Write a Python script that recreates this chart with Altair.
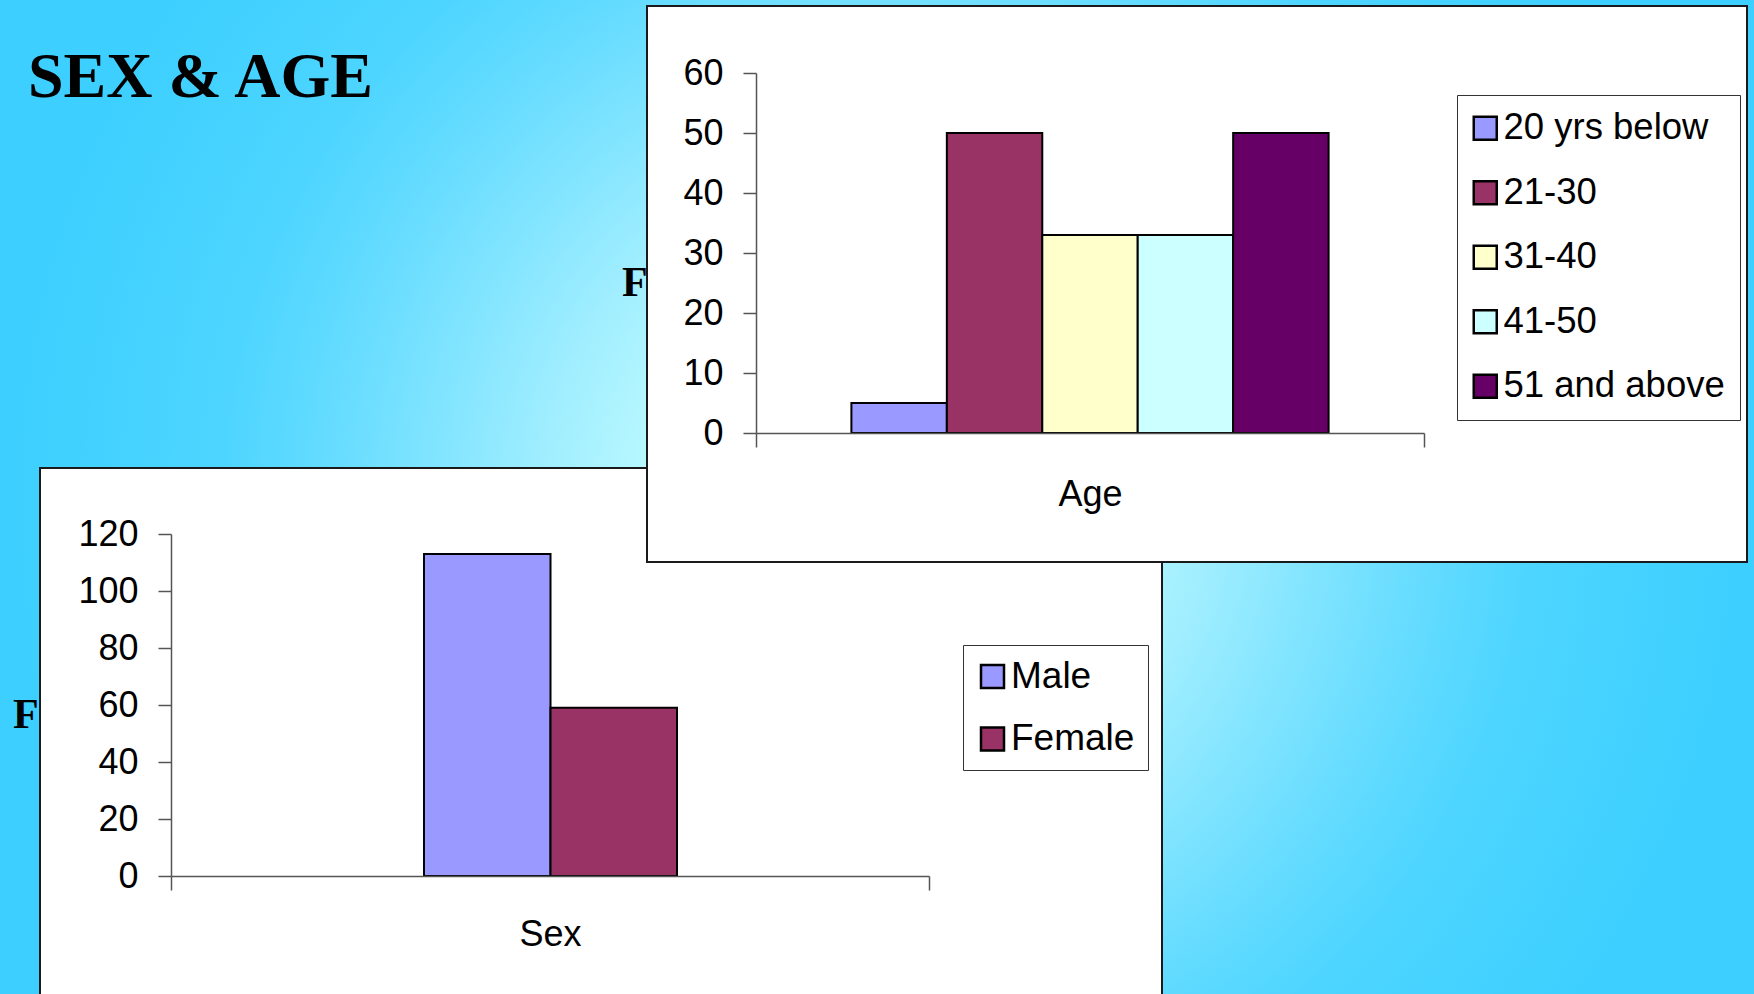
import altair as alt
import pandas as pd

W, H = 1754, 994
SANS = "Liberation Sans"
SERIF = "Liberation Serif"
AXC = "#555555"

# ---------------- data ----------------
title_text = ["SEX & AGE"]
side_text = ["F"]

age_category = ["Age"]
age_groups = ["20 yrs below", "21-30", "31-40", "41-50", "51 and above"]
age_values = [5, 50, 33, 33, 50]
age_colors = ["#9999ff", "#993366", "#ffffcc", "#ccffff", "#660066"]
age_ticks = [0, 10, 20, 30, 40, 50, 60]

sex_category = ["Sex"]
sex_groups = ["Male", "Female"]
sex_values = [113, 59]
sex_colors = ["#9999ff", "#993366"]
sex_ticks = [0, 20, 40, 60, 80, 100, 120]

one = pd.DataFrame({"p": [0]})


def rect(x0, y0, x1, y1, **kw):
    return alt.Chart(one).mark_rect(**kw).encode(
        x=alt.value(x0), x2=alt.value(x1), y=alt.value(y0), y2=alt.value(y1)
    )


background_gradient = {
    "gradient": "radial",
    "x1": 0.5, "y1": 0.5, "r1": 0,
    "x2": 0.5, "y2": 0.5, "r2": 0.5,
    "stops": [
        {"offset": 0.0, "color": "#d8ffff"},
        {"offset": 0.26, "color": "#b8f8ff"},
        {"offset": 0.38, "color": "#a0eeff"},
        {"offset": 0.51, "color": "#80e4ff"},
        {"offset": 0.64, "color": "#62dbff"},
        {"offset": 0.75, "color": "#4dd5ff"},
        {"offset": 1.0, "color": "#3ccfff"},
    ],
}


def text_layer(txt, x, y, size):
    return alt.Chart(pd.DataFrame({"t": txt})).mark_text(
        align="left", baseline="alphabetic", font=SERIF, fontWeight="bold",
        fontSize=size, color="black",
    ).encode(x=alt.value(x), y=alt.value(y), text="t:N")


def bars(cat, groups, values, colors, ticks, x0, x1, y0, y1, ymax,
         lx, ly, off_range, label_pad, legend_pad, row_pad, leg_font, sym_off):
    df = pd.DataFrame({"cat": cat * len(groups), "group": groups, "value": values})
    return alt.Chart(df).mark_bar(stroke="black", strokeWidth=2).encode(
        x=alt.X(
            "cat:N", title=None,
            scale=alt.Scale(range=[x0, x1], paddingInner=0, paddingOuter=0),
            axis=alt.Axis(
                orient="bottom", offset=y0 - H, tickBand="extent", tickSize=14,
                labelAngle=0, labelPadding=label_pad, labelFontSize=36,
                labelFont=SANS, labelColor="black", domainColor=AXC,
                tickColor=AXC, domainWidth=1.5, tickWidth=1.5, zindex=1,
            ),
        ),
        xOffset=alt.XOffset(
            "group:N",
            scale=alt.Scale(domain=groups, range=off_range,
                            paddingInner=0, paddingOuter=0),
        ),
        y=alt.Y(
            "value:Q", title=None,
            scale=alt.Scale(domain=[0, ymax], range=[y0, y1], nice=False, zero=True),
            axis=alt.Axis(
                orient="left", offset=-x0, values=ticks, tickSize=13,
                labelPadding=20, grid=False, labelFontSize=36, labelFont=SANS,
                labelColor="black", domainColor=AXC, tickColor=AXC,
                domainWidth=1.5, tickWidth=1.5, zindex=1,
            ),
        ),
        color=alt.Color(
            "group:N",
            scale=alt.Scale(domain=groups, range=colors),
            legend=alt.Legend(
                orient="none", legendX=lx, legendY=ly, title=None,
                direction="vertical", padding=legend_pad, strokeColor="#333333",
                fillColor="white", symbolType="square", symbolSize=529,
                symbolStrokeColor="black", symbolStrokeWidth=2.5,
                symbolOffset=sym_off,
                labelFontSize=leg_font, labelFont=SANS, labelColor="black",
                rowPadding=row_pad, labelOffset=0, labelLimit=500,
                zindex=1,
            ),
        ),
    )


layers = [
    rect(0, 0, W, H, fill=background_gradient, strokeWidth=0),
    text_layer(title_text, 28, 97, 64),
    text_layer(side_text, 13, 728, 42),
    text_layer(side_text, 622, 296, 42),
    # bottom-left panel
    rect(40, 468, 1162, 1010, fill="white", stroke="#1a1a1a", strokeWidth=2),
    bars(sex_category, sex_groups, sex_values, sex_colors, sex_ticks,
         171, 929, 876, 534, 120, 963, 645, [253, 506], 27, 13, 24.5, 37, -2),
    # top-right panel
    rect(647, 6, 1747, 562, fill="white", stroke="#1a1a1a", strokeWidth=2),
    bars(age_category, age_groups, age_values, age_colors, age_ticks,
         756, 1424, 433, 73, 60, 1457, 95, [95.4, 572.6], 30, 15, 27.5, 36.5, -5),
]

chart = (
    alt.layer(*layers)
    .resolve_scale(x="independent", y="independent", color="independent",
                   xOffset="independent")
    .resolve_axis(x="independent", y="independent")
    .resolve_legend(color="independent")
    .properties(width=W, height=H, padding=0,
                autosize=alt.AutoSizeParams(type="none"),
                background="#3ccfff")
    .configure_view(strokeWidth=0)
)

chart.save("out.html", embed_options={"renderer": "svg", "actions": False})
